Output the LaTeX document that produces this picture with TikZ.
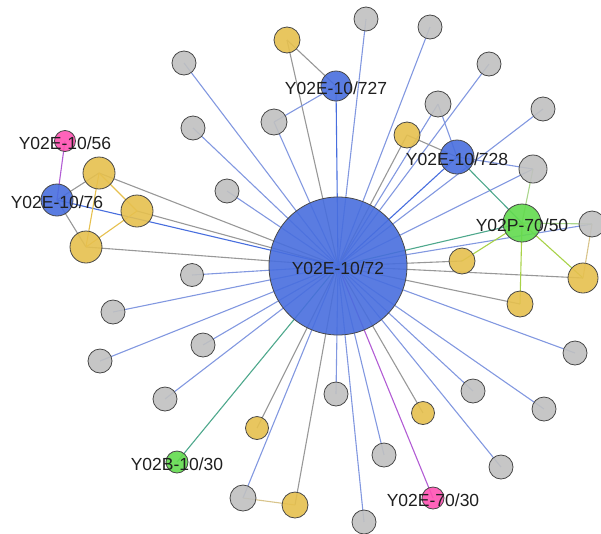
\documentclass[tikz,border=0pt]{standalone}
\usepackage{fontspec}
\setmainfont{Liberation Sans}
\usetikzlibrary{backgrounds}

% vertex fills
\definecolor{cBlue}{RGB}{72,110,222}
\definecolor{cGray}{RGB}{192,192,192}
\definecolor{cGold}{RGB}{230,192,78}
\definecolor{cGreen}{RGB}{98,218,78}
\definecolor{cPink}{RGB}{255,82,178}
% edge colours (blend of the two end vertices)
\definecolor{kGrayBlue}{RGB}{130,152,224}
\definecolor{kGoldBlue}{RGB}{152,152,152}
\definecolor{kBlueBlue}{RGB}{72,110,222}
\definecolor{kGreenBlue}{RGB}{78,168,140}
\definecolor{kPinkBlue}{RGB}{178,92,212}
\definecolor{kGreenGold}{RGB}{168,210,72}
\definecolor{kGreenGray}{RGB}{170,214,140}
\definecolor{kGoldGray}{RGB}{216,196,140}
\definecolor{kGoldGold}{RGB}{230,192,78}

\begin{document}
\begin{tikzpicture}[x=1pt,y=-1pt,
  vtx/.style={circle, inner sep=0pt, draw=black!72, line width=0.8pt, fill opacity=0.9},
  bv/.style={vtx, fill=cBlue, minimum size=#1},
  gv/.style={vtx, fill=cGray, minimum size=#1}, gv/.default=24,
  yv/.style={vtx, fill=cGold, minimum size=#1}, yv/.default=26,
  grv/.style={vtx, fill=cGreen, minimum size=#1},
  pv/.style={vtx, fill=cPink, minimum size=#1},
  lab/.style={font=\fontsize{17.5}{20}\selectfont, anchor=base, yshift=-8.5pt, text=black!88, inner sep=0pt},
  lnk/.style={line width=1.1pt, draw=#1},
]
\useasboundingbox (0,0) rectangle (601,533);

% central vertex
\node[bv=138] (H) at (338,266) {};

% secondary blue vertices
\node[bv=30] (b727) at (336,86) {};
\node[bv=34] (b728) at (457,157) {};
\node[bv=32] (b76)  at (57,200) {};

% green and pink vertices
\node[grv=38] (gP) at (522,223) {};
\node[grv=22] (gB) at (177,462) {};
\node[pv=21]  (p56) at (65,141) {};
\node[pv=22]  (p30) at (433,498) {};

% gold vertices
\foreach \n/\x/\y/\d in {y1/287/40/26, y2/407/135/26, y3/462/261/26, y4/583/278/30,
    y5/520/304/26, y6/423/413/23, y7/257/428/23, y8/295/505/26,
    yL1/99/173/32, yL2/137/211/32, yL3/86/247/32}
  \node[yv=\d] (\n) at (\x,\y) {};

% grey vertices
\foreach \n/\x/\y/\d in {g1/184/63/24, g2/193/128/24, g3/227/191/24, g4/274/122/26,
    g5/366/19/24, g6/430/27/24, g7/489/64/24, g8/438/104/26, g9/543/109/24,
    g10/533/169/28, g11/592/224/26, g12/192/275/23, g13/113/312/24, g14/100/361/24,
    g15/203/345/24, g16/165/399/24, g17/243/498/26, g18/336/394/24, g19/384/455/24,
    g20/364/522/24, g21/473/391/24, g22/544/409/24, g23/575/353/24, g24/501/467/24}
  \node[gv=\d] (\n) at (\x,\y) {};

\begin{pgfonlayer}{background}
  % spokes from the central vertex
  \foreach \n in {g1,g2,g3,g4,g5,g6,g7,g8,g9,g10,g11,g12,g13,g14,g15,g16,g17,g18,g19,g20,g21,g22,g23,g24}
    \draw[lnk=kGrayBlue] (H.center) -- (\n.center);
  \foreach \n in {y1,y2,y3,y4,y5,y6,y7,y8,yL1,yL2,yL3}
    \draw[lnk=kGoldBlue] (H.center) -- (\n.center);
  \foreach \n in {b727,b728,b76}
    \draw[lnk=kBlueBlue] (H.center) -- (\n.center);
  \foreach \n in {gP,gB}
    \draw[lnk=kGreenBlue] (H.center) -- (\n.center);
  \draw[lnk=kPinkBlue] (H.center) -- (p30.center);

  % Y02E-10/727 neighbourhood
  \draw[lnk=kGrayBlue] (b727.center) -- (g4.center);
  \draw[lnk=kGoldBlue] (b727.center) -- (y1.center);

  % Y02E-10/728 neighbourhood
  \draw[lnk=kGrayBlue] (b728.center) -- (g8.center);
  \draw[lnk=kGrayBlue] (b728.center) -- (g10.center);
  \draw[lnk=kGoldBlue] (b728.center) -- (y2.center);
  \draw[lnk=kGreenBlue] (b728.center) -- (gP.center);

  % Y02P-70/50 neighbourhood
  \draw[lnk=kGreenGray] (gP.center) -- (g10.center);
  \draw[lnk=kGreenGray] (gP.center) -- (g11.center);
  \foreach \n in {y3,y4,y5}
    \draw[lnk=kGreenGold] (gP.center) -- (\n.center);
  \draw[lnk=kGoldGray] (g11.center) -- (y4.center);

  % bottom pair
  \draw[lnk=kGoldGray] (g17.center) -- (y8.center);

  % Y02E-10/76 cluster
  \draw[lnk=kPinkBlue] (b76.center) -- (p56.center);
  \draw[lnk=kGoldBlue] (b76.center) -- (yL1.center);
  \draw[lnk=kGoldBlue] (b76.center) -- (yL3.center);
  \draw[lnk=kGoldGold] (yL1.center) -- (yL2.center);
  \draw[lnk=kGoldGold] (yL1.center) -- (yL3.center);
  \draw[lnk=kGoldGold] (yL2.center) -- (yL3.center);
\end{pgfonlayer}

% labels
\node[lab] (tH)    at (H.center)    {Y02E-10/72};
\node[lab] (t727)  at (b727.center) {Y02E-10/727};
\node[lab] (t728)  at (b728.center) {Y02E-10/728};
\node[lab] (t76)   at (b76.center)  {Y02E-10/76};
\node[lab] (t56)   at (p56.center)  {Y02E-10/56};
\node[lab] (tP)    at (gP.center)   {Y02P-70/50};
\node[lab] (tB)    at (gB.center)   {Y02B-10/30};
\node[lab] (t30)   at (p30.center)  {Y02E-70/30};
\end{tikzpicture}
\end{document}
